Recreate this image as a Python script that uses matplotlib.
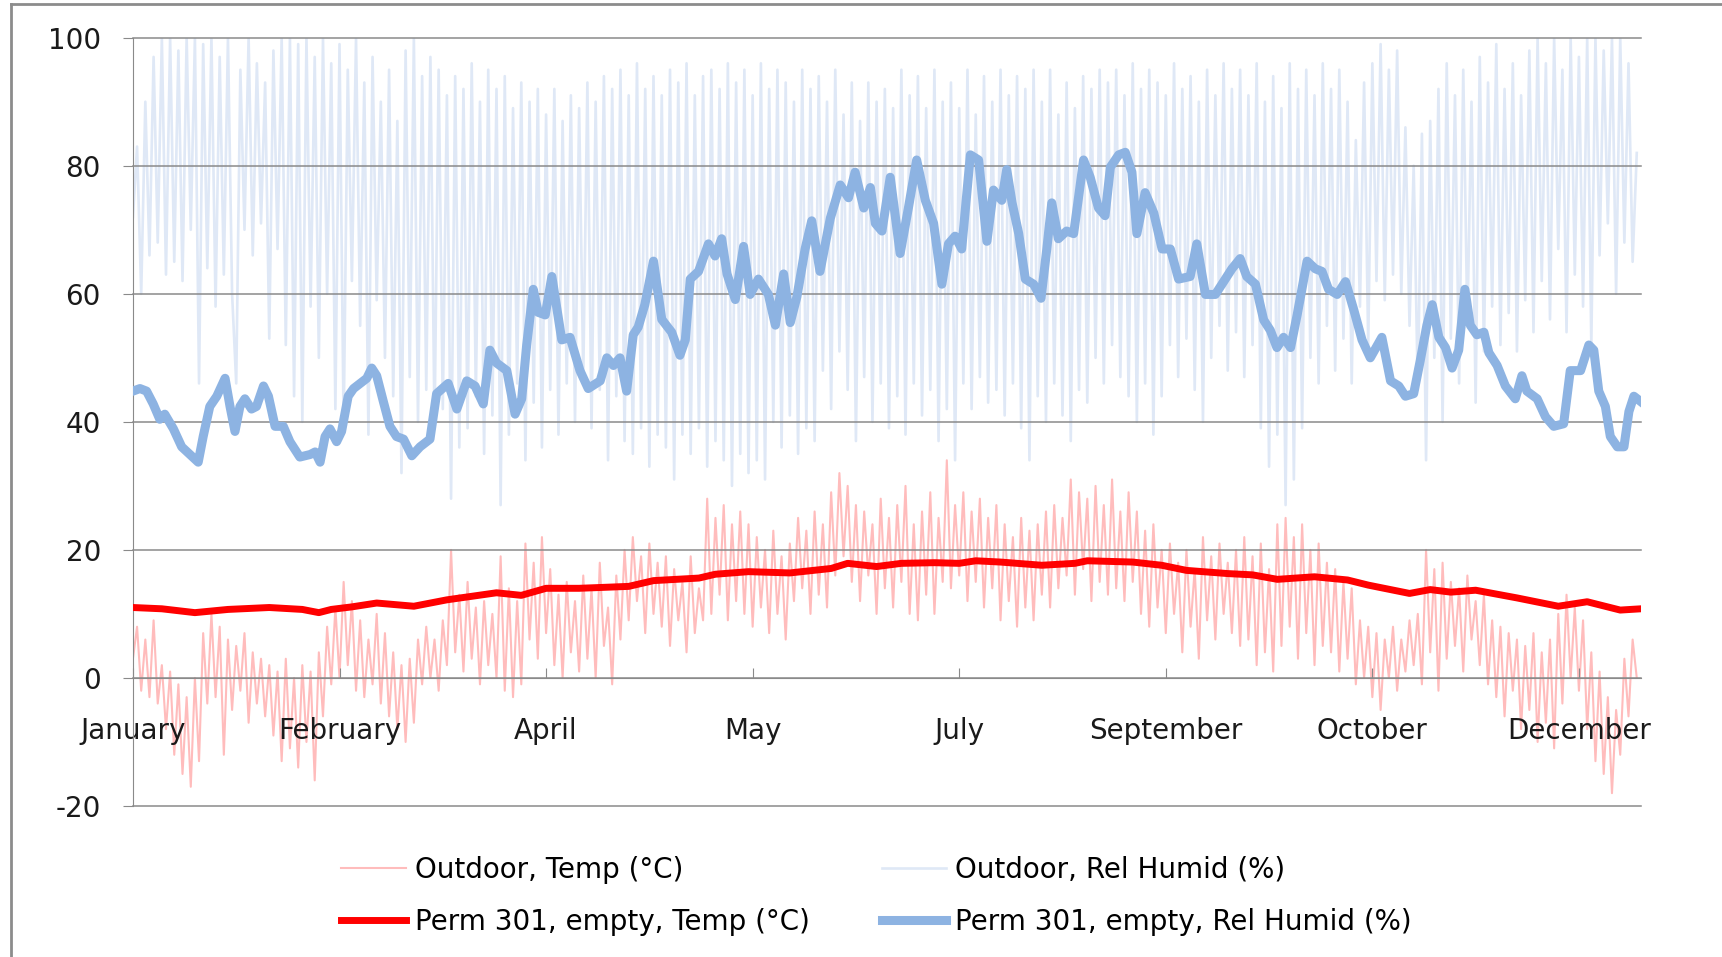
import numpy as np
import matplotlib.pyplot as plt
from matplotlib.lines import Line2D

# category labels (one every 50 days)
months = ['January', 'February', 'April', 'May', 'July', 'September', 'October', 'December']
month_days = [0, 50, 100, 150, 200, 250, 300, 350]

# outdoor temperature, one reading per day (°C)
out_temp = [
    3, 8, -2, 6, -3, 9, -4, 2, -8, 1,
    -12, -1, -15, -3, -17, 0, -13, 7, -4, 10,
    -3, 8, -12, 6, -5, 5, -2, 7, -7, 4,
    -4, 3, -6, 2, -9, 1, -13, 3, -11, 0,
    -14, 2, -10, 1, -16, 4, -6, 8, -1, 11,
    0, 15, 2, 12, -2, 9, -3, 6, -1, 10,
    -4, 7, -6, 4, -8, 2, -10, 3, -7, 6,
    -1, 8, 0, 6, -2, 9, 2, 20, 4, 13,
    1, 15, 3, 11, -1, 12, 2, 10, 0, 19,
    -2, 14, -3, 12, -1, 21, 6, 18, 3, 22,
    7, 17, 2, 13, 0, 15, 4, 12, 1, 16,
    3, 14, 0, 18, 5, 11, -1, 16, 6, 20,
    9, 22, 12, 19, 7, 21, 10, 18, 8, 19,
    5, 17, 9, 15, 4, 19, 7, 14, 9, 28,
    10, 25, 13, 27, 9, 24, 12, 26, 10, 24,
    8, 22, 11, 20, 7, 23, 10, 19, 6, 21,
    12, 25, 14, 23, 10, 26, 13, 24, 11, 29,
    16, 32, 19, 30, 15, 27, 12, 26, 16, 24,
    10, 28, 14, 25, 11, 27, 15, 30, 10, 24,
    9, 26, 13, 29, 10, 25, 15, 34, 14, 27,
    16, 29, 12, 26, 15, 28, 11, 25, 14, 27,
    9, 24, 12, 22, 8, 25, 11, 23, 9, 24,
    13, 26, 11, 27, 14, 25, 16, 31, 13, 29,
    17, 28, 12, 30, 15, 27, 13, 31, 14, 26,
    12, 29, 15, 26, 10, 23, 8, 24, 11, 20,
    7, 21, 10, 18, 4, 20, 8, 17, 3, 22,
    9, 19, 6, 21, 10, 18, 7, 20, 5, 22,
    6, 19, 2, 21, 4, 17, 1, 24, 5, 25,
    8, 22, 3, 24, 7, 20, 2, 21, 5, 18,
    4, 17, 1, 15, 3, 14, -1, 9, 0, 8,
    -3, 7, -5, 6, 0, 8, -2, 6, 1, 9,
    2, 10, -1, 20, 4, 17, -2, 18, 3, 15,
    5, 14, 1, 16, 6, 12, 2, 13, -1, 9,
    -3, 8, -6, 7, -2, 6, -8, 5, -5, 7,
    -10, 4, -7, 6, -11, 10, -4, 13, 0, 11,
    -2, 9, -8, 4, -13, 1, -15, -3, -18, -5,
    -12, 3, -6, 6, 0,
]

# outdoor relative humidity, one reading per day (%)
out_rh = [
    72, 83, 60, 90, 66, 97, 68, 100, 63, 100,
    65, 98, 62, 100, 70, 100, 46, 99, 64, 100,
    58, 97, 63, 100, 60, 46, 95, 70, 100, 66,
    96, 71, 93, 53, 98, 67, 100, 52, 100, 44,
    99, 40, 100, 58, 97, 50, 100, 60, 96, 42,
    99, 39, 95, 62, 100, 55, 93, 38, 97, 59,
    90, 50, 95, 44, 87, 32, 98, 47, 100, 40,
    94, 45, 97, 39, 95, 42, 91, 28, 94, 36,
    92, 39, 96, 44, 90, 35, 95, 41, 92, 27,
    94, 38, 89, 46, 93, 34, 90, 43, 92, 36,
    88, 45, 92, 38, 87, 46, 91, 40, 89, 47,
    93, 39, 90, 45, 94, 34, 92, 44, 95, 37,
    91, 35, 96, 39, 92, 33, 94, 38, 91, 36,
    95, 31, 93, 38, 96, 35, 91, 39, 94, 33,
    95, 37, 92, 34, 96, 30, 93, 35, 95, 32,
    91, 34, 96, 31, 92, 40, 95, 36, 93, 41,
    90, 35, 95, 39, 92, 37, 94, 48, 90, 42,
    95, 51, 88, 45, 93, 37, 87, 47, 93, 40,
    90, 46, 92, 39, 89, 44, 95, 38, 91, 46,
    94, 41, 89, 45, 95, 37, 90, 42, 93, 34,
    89, 46, 95, 42, 88, 47, 94, 43, 90, 45,
    95, 41, 91, 46, 94, 39, 92, 34, 95, 44,
    90, 40, 95, 46, 88, 41, 93, 37, 89, 45,
    94, 43, 92, 50, 95, 46, 93, 52, 95, 47,
    91, 44, 96, 40, 92, 46, 95, 38, 93, 44,
    91, 52, 96, 47, 92, 53, 94, 45, 90, 40,
    95, 50, 91, 55, 96, 48, 92, 54, 95, 47,
    91, 52, 96, 39, 90, 33, 94, 38, 89, 27,
    96, 31, 92, 39, 95, 50, 91, 46, 96, 55,
    92, 48, 95, 53, 90, 46, 84, 58, 93, 52,
    96, 62, 99, 59, 95, 63, 98, 60, 86, 55,
    80, 45, 85, 34, 87, 50, 92, 40, 96, 53,
    91, 46, 95, 55, 90, 43, 97, 51, 93, 58,
    99, 52, 92, 57, 96, 51, 91, 59, 98, 54,
    100, 62, 96, 56, 100, 67, 95, 54, 100, 63,
    97, 58, 100, 52, 100, 66, 98, 71, 100, 60,
    100, 68, 96, 65, 82,
]

# Perm 301 temperature (°C)
perm_temp_day = [0, 7, 15, 23, 33, 41, 45, 48, 53, 59,
                 68, 76, 88, 94, 100, 108, 120, 126, 137, 141,
                 149, 159, 169, 173, 180, 186, 194, 200, 204, 210,
                 220, 228, 231, 242, 249, 255, 265, 271, 277, 286,
                 294, 299, 309, 314, 319, 325, 335, 345, 352, 360, 365]
perm_temp = [11.0, 10.8, 10.2, 10.7, 11.0, 10.7, 10.2, 10.7, 11.1, 11.7,
             11.2, 12.2, 13.3, 12.9, 14.0, 14.0, 14.3, 15.2, 15.6, 16.2,
             16.6, 16.4, 17.1, 17.9, 17.4, 17.9, 18.0, 17.9, 18.3, 18.1,
             17.6, 17.9, 18.3, 18.1, 17.6, 16.8, 16.3, 16.1, 15.4, 15.8,
             15.3, 14.5, 13.2, 13.8, 13.4, 13.7, 12.5, 11.2, 11.9, 10.6, 10.8]

# Perm 301 relative humidity (%)
perm_rh_day = [0, 1.7, 3.3, 4.9, 6.5, 7.7, 9.8, 11.8, 13.8, 15.8,
               17.0, 18.6, 20.3, 22.3, 23.5, 24.7, 25.9, 27.1, 28.7, 29.9,
               31.6, 32.8, 34.4, 36.4, 38.0, 40.4, 42.9, 44.1, 45.3, 46.5,
               47.7, 49.3, 50.5, 52.1, 53.4, 55.0, 56.6, 57.8, 59.0, 60.6,
               62.2, 63.8, 65.5, 67.5, 69.5, 71.9, 73.5, 76.3, 78.4, 80.8,
               82.8, 84.8, 86.4, 88.0, 90.5, 92.5, 94.1, 95.3, 96.9, 98.1,
               99.8, 101.4, 103.8, 105.8, 108.2, 110.2, 113.1, 114.7, 116.3, 117.9,
               119.5, 121.1, 122.3, 123.9, 126.0, 128.0, 130.4, 132.4, 133.7, 134.9,
               136.9, 139.3, 140.9, 142.5, 143.8, 145.8, 147.8, 149.4, 151.4, 153.8,
               155.5, 157.5, 159.1, 160.7, 162.7, 164.3, 166.3, 168.8, 171.2, 173.2,
               174.8, 176.9, 178.5, 179.7, 181.3, 183.3, 185.7, 187.7, 189.7, 191.8,
               193.8, 195.8, 197.4, 199.0, 200.6, 202.7, 204.7, 206.7, 208.3, 210.3,
               211.5, 212.8, 214.4, 216.0, 218.0, 219.8, 221.2, 222.4, 224.0, 226.0,
               227.7, 230.1, 231.7, 233.7, 235.3, 236.6, 238.6, 240.2, 241.8, 243.0,
               245.0, 247.1, 249.1, 251.1, 253.1, 255.9, 257.5, 259.6, 262.0, 263.6,
               266.0, 268.0, 269.6, 271.7, 273.7, 275.3, 276.9, 278.5, 280.2, 281.8,
               284.2, 286.2, 287.8, 289.4, 291.5, 293.5, 295.5, 297.5, 299.5, 302.3,
               304.4, 306.4, 308.0, 310.0, 311.6, 313.2, 314.5, 316.1, 317.7, 319.3,
               320.9, 322.4, 323.7, 325.3, 327.0, 328.2, 330.2, 332.2, 334.6, 336.2,
               337.4, 339.9, 341.9, 343.9, 346.3, 347.9, 350.4, 352.4, 353.6, 354.8,
               356.4, 357.6, 359.3, 360.9, 362.1, 363.3, 364.9]
perm_rh = [44.8, 45.2, 44.8, 42.8, 40.4, 41.2, 38.9, 36.1, 34.9, 33.7,
           37.7, 42.4, 44.0, 46.8, 42.4, 38.5, 42.4, 43.6, 42.0, 42.4,
           45.6, 44.0, 39.3, 39.3, 36.9, 34.5, 34.9, 35.3, 33.7, 37.7,
           38.9, 36.9, 38.5, 44.0, 45.2, 46.0, 46.8, 48.4, 47.2, 43.2,
           39.3, 37.7, 37.3, 34.7, 36.1, 37.3, 44.4, 46.0, 42.0, 46.4,
           45.6, 42.8, 51.2, 49.2, 48.0, 41.2, 43.6, 52.0, 60.7, 57.1,
           56.7, 62.7, 52.8, 53.2, 48.0, 45.2, 46.4, 50.0, 48.8, 50.0,
           44.8, 53.6, 54.8, 58.3, 65.1, 56.0, 54.0, 50.4, 52.8, 62.3,
           63.5, 67.8, 65.9, 68.6, 63.1, 59.1, 67.4, 59.9, 62.3, 59.9,
           55.1, 63.1, 55.5, 59.5, 67.0, 71.4, 63.5, 71.8, 77.0, 75.0,
           79.0, 73.4, 76.6, 71.0, 69.8, 78.2, 66.3, 73.4, 80.9, 74.6,
           71.0, 61.5, 67.8, 69.0, 67.0, 81.7, 80.9, 68.2, 76.2, 74.6,
           79.4, 74.2, 69.4, 62.3, 61.5, 59.3, 67.0, 74.2, 68.6, 69.8,
           69.4, 80.9, 78.2, 73.4, 72.2, 79.8, 81.7, 82.1, 79.0, 69.4,
           75.8, 72.6, 67.0, 67.0, 62.3, 62.7, 67.8, 59.9, 59.9, 61.5,
           63.9, 65.5, 62.7, 61.5, 55.9, 54.3, 51.6, 53.2, 51.6, 56.7,
           65.1, 63.9, 63.5, 60.7, 59.9, 61.9, 57.5, 52.8, 50.0, 53.2,
           46.4, 45.6, 44.0, 44.4, 49.6, 55.1, 58.3, 53.2, 51.6, 48.4,
           51.2, 60.7, 55.1, 53.6, 54.0, 50.8, 48.8, 45.6, 43.6, 47.2,
           44.8, 43.6, 40.8, 39.3, 39.7, 48.0, 48.0, 52.0, 51.2, 44.8,
           42.4, 37.7, 36.1, 36.1, 41.6, 44.0, 43.2]


def main():
    plt.rcParams['font.family'] = ['DejaVu Sans']
    plt.rcParams['axes.unicode_minus'] = False

    fig = plt.figure(figsize=(17.22, 9.57), dpi=100)
    ax = fig.add_axes([0.0772, 0.1578, 0.8757, 0.8028])

    days = np.arange(len(out_temp))
    h1, = ax.plot(days, out_temp, color='#ffbcbc', lw=1.5, label='Outdoor, Temp (°C)', zorder=1)
    h2, = ax.plot(days, out_rh, color='#dfe8f6', lw=1.9, label='Outdoor, Rel Humid (%)', zorder=1)
    h3, = ax.plot(perm_temp_day, perm_temp, color='#ff0000', lw=5,
                  label='Perm 301, empty, Temp (°C)', zorder=3)
    h4, = ax.plot(perm_rh_day, perm_rh, color='#8db3e2', lw=6.5,
                  label='Perm 301, empty, Rel Humid (%)', zorder=3)

    ax.set_xlim(0, 365)
    ax.set_ylim(-20, 100)
    ax.set_yticks(range(-20, 101, 20))
    ax.set_xticks(month_days)
    ax.set_xticklabels(months)

    ax.yaxis.grid(True, color='#8a8a8a', lw=1.1)
    for gl in ax.get_ygridlines():
        gl.set_clip_on(False)
    ax.set_axisbelow('line')
    for s in ['top', 'right']:
        ax.spines[s].set_visible(False)
    ax.spines['left'].set_color('#8a8a8a')
    ax.spines['bottom'].set_color('#8a8a8a')
    ax.spines['bottom'].set_position(('data', 0))
    ax.spines['bottom'].set_zorder(1.5)

    ax.tick_params(axis='y', direction='out', length=7, color='#8a8a8a',
                   labelsize=20, pad=16, labelcolor='#1a1a1a')
    ax.tick_params(axis='x', direction='in', length=7, color='#8a8a8a',
                   labelsize=20, pad=28, labelcolor='#1a1a1a')

    # outer chart frame (left and top edges visible)
    fx = 11 / 1722
    fy = 1 - 4 / 957
    fig.add_artist(Line2D([fx, fx], [0, fy], color='#8c8c8c', lw=2, transform=fig.transFigure))
    fig.add_artist(Line2D([fx, 1], [fy, fy], color='#8c8c8c', lw=2, transform=fig.transFigure))

    fig.legend(handles=[h1, h3, h2, h4], ncol=2, loc='center',
               bbox_to_anchor=(0.509, 0.064), frameon=False, fontsize=20,
               handlelength=2.33, handletextpad=0.32, columnspacing=2.6,
               labelspacing=0.85)

    fig.savefig('out.png', dpi=100)


if __name__ == "__main__":
    main()
